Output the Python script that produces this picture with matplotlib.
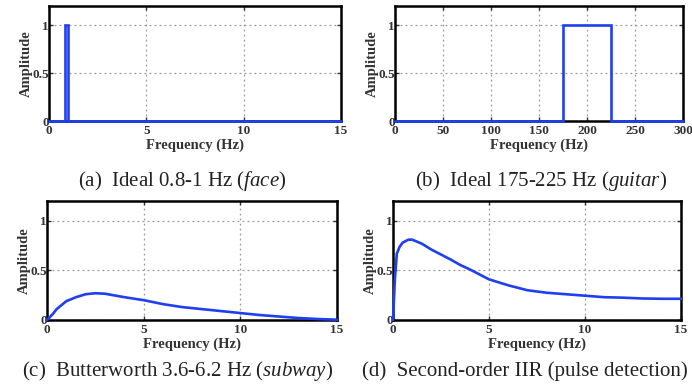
import matplotlib
matplotlib.use("Agg")
import matplotlib.pyplot as plt

plt.rcParams['font.family'] = ['Liberation Serif', 'DejaVu Serif']
plt.rcParams['mathtext.fontset'] = 'custom'
plt.rcParams['mathtext.rm'] = 'Liberation Serif'
plt.rcParams['mathtext.it'] = 'Liberation Serif:italic'

# ---- data ----
a_freq = [0, 0.8, 0.8, 1.0, 1.0, 15]
a_amp = [0, 0, 1, 1, 0, 0]

b_freq = [0, 175, 175, 225, 225, 300]
b_amp = [0, 0, 1, 1, 0, 0]

c_freq = [0, 0.3, 0.5, 1, 1.5, 2, 2.5, 3, 4, 5, 6, 7, 8, 9, 10, 11, 12, 13, 14, 15]
c_amp = [0, 0.06, 0.11, 0.19, 0.23, 0.26, 0.27, 0.265, 0.23, 0.20, 0.16, 0.13,
         0.11, 0.09, 0.07, 0.05, 0.035, 0.02, 0.01, 0.003]

d_freq = [0, 0.1, 0.2, 0.35, 0.5, 0.8, 1, 1.5, 2, 2.5, 3, 3.5, 4, 5, 6, 7, 8, 9,
          10, 11, 12, 13, 14, 15]
d_amp = [0, 0.42, 0.67, 0.74, 0.78, 0.81, 0.81, 0.77, 0.71, 0.66, 0.61, 0.555,
         0.51, 0.41, 0.35, 0.30, 0.275, 0.26, 0.245, 0.23, 0.225, 0.217, 0.214, 0.214]

x_ticks_hz = [0, 5, 10, 15]
x_ticks_b = [0, 50, 100, 150, 200, 250, 300]
y_ticks = [0, 0.5, 1]
y_ticklabels = ['0', '0.5', '1']

captions = [
    r"(a)  Ideal 0.8-1 Hz ($\mathit{face}$)",
    r"(b)  Ideal 175-225 Hz ($\mathit{guitar}$)",
    r"(c)  Butterworth 3.6-6.2 Hz ($\mathit{subway}$)",
    r"(d)  Second-order IIR (pulse detection)",
]

W, H = 692, 387
fig = plt.figure(figsize=(W / 100, H / 100), dpi=100)

# axes boxes in pixels: left, right, top, bottom
boxes = [(49, 341, 6, 121), (395, 683, 6, 121), (47, 337, 201, 320), (393, 681, 201, 320)]
series = [(a_freq, a_amp, 15, x_ticks_hz), (b_freq, b_amp, 300, x_ticks_b),
          (c_freq, c_amp, 15, x_ticks_hz), (d_freq, d_amp, 15, x_ticks_hz)]
cap_pos = [(182, 181), (541, 181), (178, 371), (525, 371)]

blue = '#1f3ff0'
for (l, r, t, b), (fx, fy, xmax, xt), cap, (cx, cy) in zip(boxes, series, captions, cap_pos):
    ax = fig.add_axes([l / W, 1 - b / H, (r - l) / W, (b - t) / H])
    ax.plot(fx, fy, color=blue, lw=1.9, zorder=5, clip_on=False, solid_joinstyle='miter')
    ax.set_xlim(0, xmax)
    ax.set_ylim(0, 1.2)
    ax.set_xticks(xt)
    ax.set_xticklabels([str(v) for v in xt])
    ax.set_yticks(y_ticks)
    ax.set_yticklabels(y_ticklabels)
    ax.grid(True, linestyle=(0, (1.5, 2.5)), color='#9a9a9a', lw=0.9)
    ax.set_axisbelow(True)
    for s in ax.spines.values():
        s.set_linewidth(1.8)
        s.set_color('black')
    ax.tick_params(direction='in', length=3, width=1, labelsize=9.5,
                   colors='#333333', top=True, right=True)
    ax.tick_params(axis='x', pad=3)
    ax.tick_params(axis='y', pad=0)
    for lab in ax.get_xticklabels() + ax.get_yticklabels():
        lab.set_fontweight('bold')
    ax.set_xlabel('Frequency (Hz)', fontsize=10.5, fontweight='bold', color='#333333', labelpad=1)
    ax.set_ylabel('Amplitude', fontsize=10.5, fontweight='bold', color='#333333', labelpad=0)
    fig.text(cx / W, 1 - cy / H, cap, ha='center', va='center', fontsize=15, color='#222222')

fig.savefig('out.png', dpi=100)
